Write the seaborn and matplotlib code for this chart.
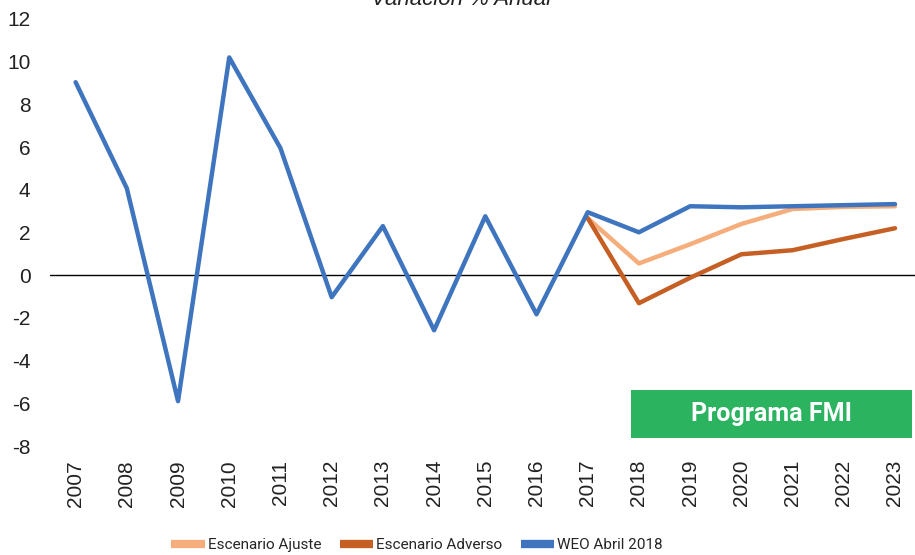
import matplotlib
matplotlib.use('Agg')
import matplotlib.pyplot as plt
import seaborn as sns
import pandas as pd
from matplotlib.patches import Rectangle

# Data (variación % anual)
years = list(range(2007, 2024))
weo_abril_2018 = [9.04, 4.07, -5.9, 10.2, 5.95, -1.03, 2.3, -2.58, 2.76, -1.83,
                  2.95, 2.01, 3.23, 3.18, 3.23, 3.28, 3.33]
years_escenario = list(range(2017, 2024))
escenario_ajuste = [2.67, 0.55, 1.45, 2.4, 3.1, 3.2, 3.23]
escenario_adverso = [2.67, -1.31, -0.12, 0.98, 1.17, 1.7, 2.2]

series_names = ['Escenario Ajuste', 'Escenario Adverso', 'WEO Abril 2018']
colors = ['#F5AE7B', '#C55F24', '#3E75BE']

df = pd.concat([
    pd.DataFrame({'year': years_escenario, 'value': escenario_ajuste, 'serie': series_names[0]}),
    pd.DataFrame({'year': years_escenario, 'value': escenario_adverso, 'serie': series_names[1]}),
    pd.DataFrame({'year': years, 'value': weo_abril_2018, 'serie': series_names[2]}),
], ignore_index=True)

sns.set_theme(style='white')
plt.rcParams['font.family'] = ['Liberation Sans Narrow', 'Liberation Sans', 'DejaVu Sans']
plt.rcParams['axes.unicode_minus'] = False

fig = plt.figure(figsize=(9.15, 5.55), dpi=100)
ax = fig.add_axes([50 / 915, 1 - 446 / 555, 870.6 / 915, 427 / 555])

sns.lineplot(data=df, x='year', y='value', hue='serie', hue_order=series_names,
             palette=colors, linewidth=3.2, ax=ax, legend=False, sort=False)

ax.axhline(0, color='black', linewidth=1, zorder=1)
ax.set_xlim(2006.5, 2023.5)
ax.set_ylim(-8, 12)
ax.set_yticks(range(-8, 13, 2))
ax.set_xticks(years)
ax.set_xticklabels([str(y) for y in years], rotation=90)
ax.tick_params(axis='y', labelsize=15, pad=14, length=0, labelcolor='#222222')
ax.tick_params(axis='x', labelsize=15, pad=10, length=0, labelcolor='#222222')
ax.set_xlabel('')
ax.set_ylabel('')
for s in ax.spines.values():
    s.set_visible(False)

# Programa FMI box
box = Rectangle((0.667, 0.0187), 0.323, 0.112, transform=ax.transAxes,
                facecolor='#2BB35F', edgecolor='none', zorder=5, clip_on=False)
ax.add_patch(box)
ax.text(0.667 + 0.323 / 2, 0.0187 + 0.112 / 2, 'Programa FMI', transform=ax.transAxes,
        ha='center', va='center', color='white', fontsize=18, fontweight='bold',
        family=['Roboto', 'DejaVu Sans'], zorder=6)

fig.text(461 / 915, 1 - 5 / 555, 'Variación % Anual', ha='center', va='baseline',
         fontsize=16, style='italic', family=['Liberation Sans', 'DejaVu Sans'], color='#222222')

handles = [plt.Line2D([], [], color=c, linewidth=6, solid_capstyle='butt') for c in colors]
fig.legend(handles, series_names, loc='center', bbox_to_anchor=(417 / 915, 1 - 545 / 555),
           ncol=3, frameon=False, handlelength=2.2, handletextpad=0.2, columnspacing=1.2,
           prop={'family': ['Roboto', 'DejaVu Sans'], 'size': 11})

fig.savefig('out.png', dpi=100)
